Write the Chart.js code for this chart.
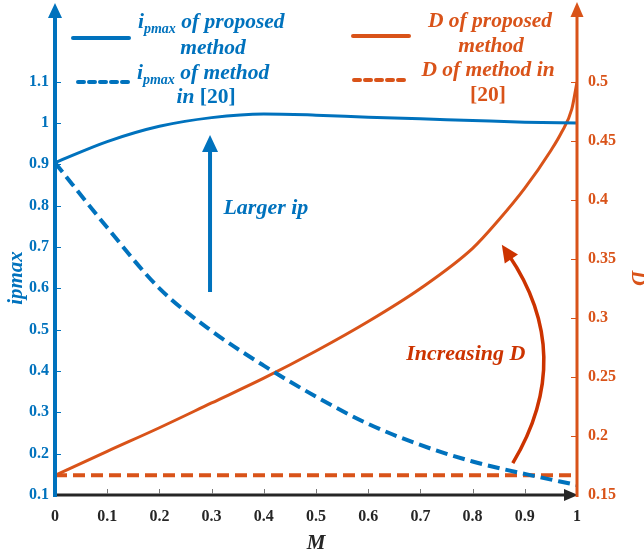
<!DOCTYPE html>
<html lang="en">
<head>
<meta charset="UTF-8">
<title>ipmax and D versus M</title>
<script src="https://cdn.jsdelivr.net/npm/chart.js@4.4.0/dist/chart.umd.min.js"></script>
<style>
  html, body { margin: 0; padding: 0; background: #fff; }
  #wrap { width: 644px; height: 556px; }
</style>
</head>
<body>
<div id="wrap"><canvas id="chart" width="644" height="556"></canvas></div>
<script>
// modulation index M and the two quantities
const mPoints = [0, 0.1, 0.2, 0.3, 0.4, 0.5, 0.6, 0.7, 0.8, 0.9, 1];
const ipmaxProposed = [0.904, 0.955, 0.992, 1.013, 1.022, 1.019, 1.014, 1.010, 1.006, 1.002, 1.000];
const ipmaxRef20 = [0.904, 0.747, 0.600, 0.497, 0.413, 0.338, 0.272, 0.221, 0.181, 0.151, 0.124];
const dPoints = [0, 0.1, 0.2, 0.3, 0.4, 0.5, 0.6, 0.7, 0.8, 0.85, 0.9, 0.95, 0.97, 0.99, 1];
const dProposed = [0.1667, 0.187, 0.207, 0.228, 0.249, 0.272, 0.297, 0.325, 0.359, 0.383, 0.410, 0.442, 0.457, 0.477, 0.5];
const dRefPoints = [0, 1];
const dRef20 = [0.1667, 0.1667];

// tick labels
const xTicks = [0, 0.1, 0.2, 0.3, 0.4, 0.5, 0.6, 0.7, 0.8, 0.9, 1];
const leftTicks = [0.1, 0.2, 0.3, 0.4, 0.5, 0.6, 0.7, 0.8, 0.9, 1, 1.1];
const rightTicks = [0.15, 0.2, 0.25, 0.3, 0.35, 0.4, 0.45, 0.5];

const BLUE = '#0072BD', ORANGE = '#D95319', RED = '#CC3300', DARK = '#262626';
const SERIF = '"Liberation Serif", "Times New Roman", serif';

const pairs = (xs, ys) => xs.map((x, i) => ({ x: x, y: ys[i] }));
const fmt = v => String(Math.round(v * 100) / 100);

function arrowHead(ctx, tx, ty, dx, dy, len, half, color) {
    const n = Math.hypot(dx, dy); dx /= n; dy /= n;
    const bx = tx - dx * len, by = ty - dy * len;
    ctx.fillStyle = color;
    ctx.beginPath();
    ctx.moveTo(tx, ty);
    ctx.lineTo(bx - dy * half, by + dx * half);
    ctx.lineTo(bx + dy * half, by - dx * half);
    ctx.closePath();
    ctx.fill();
}

// draw a line of mixed-font text; align 'left' or 'center'
function textRuns(ctx, runs, x, y, align, color) {
    ctx.fillStyle = color;
    ctx.textBaseline = 'alphabetic';
    ctx.textAlign = 'left';
    let w = 0;
    runs.forEach(r => { ctx.font = r.font; w += ctx.measureText(r.t).width; });
    let cx = align === 'center' ? x - w / 2 : x;
    runs.forEach(r => {
        ctx.font = r.font;
        ctx.fillText(r.t, cx, y + (r.dy || 0));
        cx += ctx.measureText(r.t).width;
    });
}

const big = `italic bold 21.5px ${SERIF}`;
const sub = `italic bold 14px ${SERIF}`;
const upright = `bold 21.5px ${SERIF}`;
const note = `italic bold 22px ${SERIF}`;

// axes with arrows, inward ticks and annotations
const decor = {
    id: 'decor',
    afterDatasetsDraw(chart) {
        const { ctx, chartArea: a, scales } = chart;
        const { x, yL, yR } = scales;
        ctx.save();
        ctx.lineCap = 'butt';

        // bottom axis
        ctx.strokeStyle = DARK; ctx.lineWidth = 3;
        ctx.beginPath(); ctx.moveTo(a.left, a.bottom); ctx.lineTo(a.right - 12, a.bottom); ctx.stroke();
        arrowHead(ctx, a.right + 1, a.bottom, 1, 0, 14, 6, DARK);
        ctx.strokeStyle = '#777'; ctx.lineWidth = 1;
        xTicks.slice(1, -1).forEach(v => {
            const px = Math.round(x.getPixelForValue(v)) + 0.5;
            ctx.beginPath(); ctx.moveTo(px, a.bottom - 1); ctx.lineTo(px, a.bottom - 6); ctx.stroke();
        });

        // left axis
        ctx.strokeStyle = BLUE; ctx.lineWidth = 1;
        leftTicks.slice(1).forEach(v => {
            const py = Math.round(yL.getPixelForValue(v)) + 0.5;
            ctx.beginPath(); ctx.moveTo(a.left, py); ctx.lineTo(a.left + 6, py); ctx.stroke();
        });
        ctx.lineWidth = 4;
        ctx.beginPath(); ctx.moveTo(a.left, a.bottom + 2); ctx.lineTo(a.left, 16); ctx.stroke();
        arrowHead(ctx, a.left, 3, 0, -1, 15, 7, BLUE);

        // right axis
        ctx.strokeStyle = ORANGE; ctx.lineWidth = 1;
        rightTicks.slice(1).forEach(v => {
            const py = Math.round(yR.getPixelForValue(v)) + 0.5;
            ctx.beginPath(); ctx.moveTo(a.right, py); ctx.lineTo(a.right - 6, py); ctx.stroke();
        });
        ctx.lineWidth = 3;
        ctx.beginPath(); ctx.moveTo(a.right, a.bottom + 2); ctx.lineTo(a.right, 16); ctx.stroke();
        arrowHead(ctx, a.right, 2, 0, -1, 15, 6.5, ORANGE);

        // "Larger ip" arrow
        const lx = x.getPixelForValue(0.297);
        const ly0 = yL.getPixelForValue(0.591), ly1 = yL.getPixelForValue(0.971);
        ctx.strokeStyle = BLUE; ctx.lineWidth = 4;
        ctx.beginPath(); ctx.moveTo(lx, ly0); ctx.lineTo(lx, ly1 + 14); ctx.stroke();
        arrowHead(ctx, lx, ly1, 0, -1, 17, 8, BLUE);
        textRuns(ctx, [{ t: 'Larger ip', font: note }], x.getPixelForValue(0.404), yL.getPixelForValue(0.797) + 7, 'center', BLUE);

        // "Increasing D" curved arrow
        const p0 = { x: x.getPixelForValue(0.877), y: yR.getPixelForValue(0.177) };
        const pc = { x: x.getPixelForValue(1.0), y: yR.getPixelForValue(0.268) };
        const p2 = { x: x.getPixelForValue(0.856), y: yR.getPixelForValue(0.362) };
        const dx = p2.x - pc.x, dy = p2.y - pc.y, dn = Math.hypot(dx, dy);
        ctx.strokeStyle = RED; ctx.lineWidth = 3.5;
        ctx.beginPath();
        ctx.moveTo(p0.x, p0.y);
        ctx.quadraticCurveTo(pc.x, pc.y, p2.x - dx / dn * 12, p2.y - dy / dn * 12);
        ctx.stroke();
        arrowHead(ctx, p2.x, p2.y, dx, dy, 17, 8, RED);
        textRuns(ctx, [{ t: 'Increasing D', font: note }], x.getPixelForValue(0.787), yR.getPixelForValue(0.270) + 7, 'center', RED);
        ctx.restore();
    },
    afterDraw(chart) {
        const ctx = chart.ctx;
        ctx.save();
        // legend samples
        ctx.lineWidth = 4; ctx.lineCap = 'round';
        ctx.strokeStyle = BLUE;
        ctx.beginPath(); ctx.moveTo(73, 38); ctx.lineTo(129, 38); ctx.stroke();
        ctx.setLineDash([6, 5]);
        ctx.beginPath(); ctx.moveTo(78, 82); ctx.lineTo(128, 82); ctx.stroke();
        ctx.setLineDash([]);
        ctx.strokeStyle = ORANGE;
        ctx.beginPath(); ctx.moveTo(353, 36); ctx.lineTo(409, 36); ctx.stroke();
        ctx.setLineDash([6, 5]);
        ctx.beginPath(); ctx.moveTo(354, 80); ctx.lineTo(408, 80); ctx.stroke();
        ctx.setLineDash([]);

        // legend texts
        textRuns(ctx, [{ t: 'i', font: big }, { t: 'pmax', font: sub, dy: 5 }, { t: ' of proposed', font: big }], 138, 28, 'left', BLUE);
        textRuns(ctx, [{ t: 'method', font: big }], 213, 54, 'center', BLUE);
        textRuns(ctx, [{ t: 'i', font: big }, { t: 'pmax', font: sub, dy: 5 }, { t: ' of method', font: big }], 137, 79, 'left', BLUE);
        textRuns(ctx, [{ t: 'in ', font: big }, { t: '[20]', font: upright }], 206, 103, 'center', BLUE);
        textRuns(ctx, [{ t: 'D of proposed', font: big }], 490, 27, 'center', ORANGE);
        textRuns(ctx, [{ t: 'method', font: big }], 491, 52, 'center', ORANGE);
        textRuns(ctx, [{ t: 'D of method in', font: big }], 488, 76, 'center', ORANGE);
        textRuns(ctx, [{ t: '[20]', font: upright }], 488, 101, 'center', ORANGE);
        ctx.restore();
    }
};

const tickFont = { family: SERIF, size: 16, weight: 'bold' };
const titleFont = { family: SERIF, size: 21, weight: 'bold', style: 'italic' };
const noGrid = { display: false, drawTicks: false };

new Chart(document.getElementById('chart'), {
    type: 'line',
    data: {
        datasets: [
            {
                label: 'ipmax of proposed method',
                data: pairs(mPoints, ipmaxProposed),
                yAxisID: 'yL',
                borderColor: BLUE,
                borderWidth: 3,
                pointRadius: 0,
                cubicInterpolationMode: 'monotone'
            },
            {
                label: 'ipmax of method in [20]',
                data: pairs(mPoints, ipmaxRef20),
                yAxisID: 'yL',
                borderColor: BLUE,
                borderWidth: 4,
                borderDash: [12, 6],
                pointRadius: 0,
                cubicInterpolationMode: 'monotone'
            },
            {
                label: 'D of proposed method',
                data: pairs(dPoints, dProposed),
                yAxisID: 'yR',
                borderColor: ORANGE,
                borderWidth: 3,
                pointRadius: 0,
                cubicInterpolationMode: 'monotone'
            },
            {
                label: 'D of method in [20]',
                data: pairs(dRefPoints, dRef20),
                yAxisID: 'yR',
                borderColor: ORANGE,
                borderWidth: 4,
                borderDash: [12, 6],
                pointRadius: 0
            }
        ]
    },
    options: {
        responsive: false,
        animation: false,
        layout: { padding: { top: 61, left: 0, right: 0, bottom: 0 } },
        plugins: { legend: { display: false }, tooltip: { enabled: false } },
        scales: {
            x: {
                type: 'linear', min: 0, max: 1,
                afterBuildTicks: s => { s.ticks = xTicks.map(v => ({ value: v })); },
                afterFit: s => { s.height = 61; },
                grid: noGrid, border: { display: false },
                ticks: { font: tickFont, color: DARK, padding: 12, maxRotation: 0, autoSkip: false, callback: fmt },
                title: { display: true, text: 'M', font: titleFont, color: DARK, padding: { top: 0, bottom: 0 } }
            },
            yL: {
                type: 'linear', position: 'left', min: 0.1, max: 1.15,
                afterBuildTicks: s => { s.ticks = leftTicks.map(v => ({ value: v })); },
                afterFit: s => { s.width = 55; },
                grid: noGrid, border: { display: false },
                ticks: { font: tickFont, color: BLUE, padding: 6, autoSkip: false, callback: fmt },
                title: { display: true, text: 'ipmax', font: titleFont, color: BLUE, padding: { top: 4, bottom: 0 } }
            },
            yR: {
                type: 'linear', position: 'right', min: 0.15, max: 0.5178,
                afterBuildTicks: s => { s.ticks = rightTicks.map(v => ({ value: v })); },
                afterFit: s => { s.width = 67; },
                grid: noGrid, border: { display: false },
                ticks: { font: tickFont, color: ORANGE, padding: 11, autoSkip: false, callback: fmt },
                title: { display: true, text: 'D', font: titleFont, color: ORANGE, padding: { top: -6, bottom: 0 } }
            }
        }
    },
    plugins: [decor]
});
</script>
</body>
</html>
